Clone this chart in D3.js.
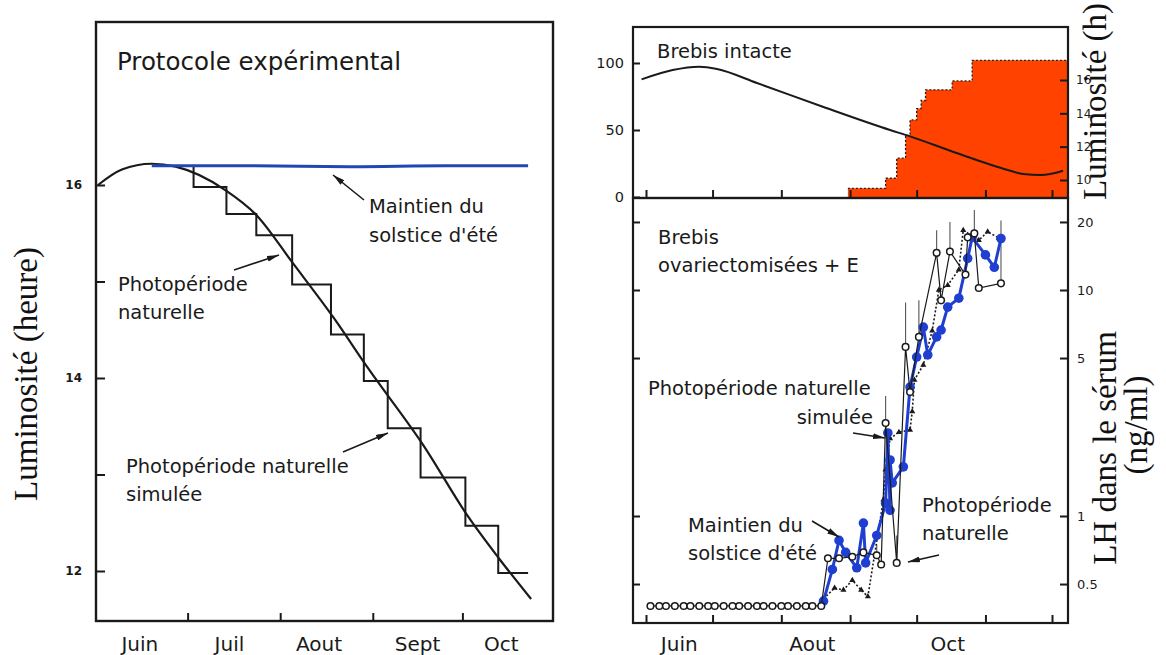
<!DOCTYPE html>
<html><head><meta charset="utf-8">
<script src="https://cdn.jsdelivr.net/npm/d3@7"></script>
<style>
body{margin:0;background:#fff}
svg{display:block}
text{font-family:"DejaVu Sans",Arial,sans-serif;fill:#1a1a1a}
.serif{font-family:"Liberation Serif","Times New Roman",serif;fill:#111}
</style>
</head><body>
<svg id="c" width="1166" height="655"></svg>
<script>
// ---------------- DATA ----------------
// Left panel : "Protocole expérimental"
const leftMonthLabels = ["Juin","Juil","Aout","Sept","Oct"];
const leftMonthLabelDates = ["06-15","07-15","08-14","09-16","10-14"];
const leftMonthTickDates = ["07-01","08-01","09-01","10-01"];
const leftHourTicks = [12,13,14,15,16];
const leftHourLabels = ["12","","14","","16"];

const naturalDates = ["06-01","06-09","06-19","06-27","07-14","07-24","08-05","08-19","08-30","09-18","10-03","10-13","10-24"];
const naturalHours = [16.0,16.16,16.22,16.19,15.94,15.69,15.2,14.62,14.12,13.3,12.56,12.14,11.71];

const solsticeDates = ["06-19","07-20","08-25","09-25","10-23"];
const solsticeHours = [16.2,16.2,16.19,16.2,16.2];

const simStepDates = ["07-03","07-03","07-14","07-24","08-05","08-18","08-29","09-06","09-17","10-02","10-13","10-23"];
const simStepHours = [16.2,15.98,15.70,15.48,14.97,14.45,13.97,13.48,12.97,12.47,11.98,11.98];

// Right panel, top : "Brebis intacte"
const rightMonthLabels = ["Juin","Aout","Oct"];
const rightMonthLabelDates = ["06-16","08-15","10-15"];
const rightMonthTickDates = ["06-01","07-01","08-01","09-01","10-01","11-01","12-01"];
const percentTicks = [0,50,100];
const lumTicks = [10,12,14,16];

const intactDates = ["05-30","06-13","06-25","07-03","07-21","08-20","09-19","09-28","10-19","11-11","11-18","11-26","12-06"];
const intactHours = [16.04,16.6,16.8,16.66,15.82,14.38,13.0,12.62,11.62,10.6,10.36,10.3,10.56];

const cyclingDates = ["08-31","09-17","09-22","09-26","09-28","10-01","10-03","10-05","10-17","10-26","12-08"];
const cyclingPct = [6.5,14,29,46,57.5,66,72,80,86.6,102,102];

// Right panel, bottom : "Brebis ovariectomisées + E"
const lhTicks = [0.5,1,5,10,20];
const lhTickLabels = ["0.5","1","5","10","20"];

const baselineDates = ["06-03","06-07","06-10","06-14","06-18","06-21","06-25","06-29","07-02","07-06","07-10","07-13","07-17","07-21","07-24","07-28","08-01","08-04","08-08","08-12","08-15","08-19"];
const baselineLH = [0.4,0.4,0.4,0.4,0.4,0.4,0.4,0.4,0.4,0.4,0.4,0.4,0.4,0.4,0.4,0.4,0.4,0.4,0.4,0.4,0.4,0.4];

const naturelDates = ["08-22","08-27","09-02","09-07","09-13","09-15","09-17","09-22","09-26","09-28","10-02","10-10","10-12","10-16","10-23","10-24","10-27","10-29","11-08"];
const naturelLH = [0.65,0.65,0.66,0.69,0.67,0.61,2.58,0.62,5.6,3.54,6.2,14.6,9.0,14.8,11.7,17.1,17.8,10.2,10.7];
const naturelUpper = [null,null,null,null,0.75,null,3.4,0.82,8.8,null,9.0,18.4,null,20,null,null,22.6,null,20.3];

const solsticeLHDates = ["08-20","08-24","08-27","08-30","09-04","09-07","09-08","09-13","09-17","09-18","09-19","09-19","09-20","09-25","09-28","10-01","10-04","10-06","10-10","10-12","10-15","10-20","10-24","10-26","11-01","11-05","11-08"];
const solsticeLH = [0.42,0.58,0.78,0.69,0.59,0.93,0.62,0.82,1.14,2.33,1.06,1.77,1.40,1.65,3.72,5.05,6.85,5.16,6.2,6.65,8.4,9.2,13.8,17.1,14.3,12.6,16.9];

const simuleeDates = ["08-20","08-25","08-29","09-02","09-06","09-09","09-16","09-17","09-19","09-23","09-28","09-29","09-30","10-04","10-08","10-11","10-15","10-20","10-22","10-29","11-02","11-07"];
const simuleeLH = [0.43,0.48,0.47,0.52,0.47,0.44,1.18,1.6,2.2,2.35,2.4,2.9,4.0,4.66,6.6,10.0,10.5,12.3,18.4,16.6,18.1,17.0];

// ---------------- DRAW ----------------
const svg = d3.select("#c");
const parse = d3.timeParse("%Y-%m-%d");
const D = s => parse("1980-" + s);
const ink = "#1a1a1a";

const defs = svg.append("defs");
defs.append("marker").attr("id","arr").attr("viewBox","0 0 12 6")
  .attr("refX",12).attr("refY",3).attr("markerWidth",12).attr("markerHeight",6)
  .attr("markerUnits","userSpaceOnUse").attr("orient","auto")
  .append("path").attr("d","M0,0 L12,3 L0,6 Z").attr("fill",ink);

function arrow(g, x1,y1,x2,y2){
  g.append("line").attr("x1",x1).attr("y1",y1).attr("x2",x2).attr("y2",y2)
   .attr("stroke",ink).attr("stroke-width",1.6).attr("marker-end","url(#arr)");
}
function label(g, x, y, txt, size, anchor){
  g.append("text").attr("x",x).attr("y",y).attr("dy","0.35em")
   .attr("font-size",size).attr("text-anchor",anchor||"start").text(txt);
}
function styleAxis(g, fs, fill){
  g.select(".domain").remove();
  g.selectAll(".tick line").attr("stroke",ink).attr("stroke-width",2);
  g.selectAll(".tick text").attr("font-size",fs).attr("fill",fill||ink)
    .attr("font-family","DejaVu Sans, Arial, sans-serif");
}

// ===== LEFT PANEL =====
const gl = svg.append("g");
const xL = d3.scaleTime().domain([D("06-01"), D("10-31")]).range([98, 552]);
const yL = d3.scaleLinear().domain([12,16]).range([571,185]);

gl.append("rect").attr("x",96).attr("y",22).attr("width",457).attr("height",599)
  .attr("fill","none").attr("stroke",ink).attr("stroke-width",2.4);

const axL = gl.append("g").attr("transform","translate(96,0)")
  .call(d3.axisLeft(yL).tickValues(leftHourTicks).tickSizeInner(-9).tickSizeOuter(0)
        .tickPadding(14).tickFormat((d,i)=>leftHourLabels[i]));
styleAxis(axL, 12);
axL.selectAll(".tick text").attr("font-weight","bold");

const axLb = gl.append("g").attr("transform","translate(0,621)")
  .call(d3.axisBottom(xL).tickValues(leftMonthTickDates.map(D)).tickSizeInner(-8).tickSizeOuter(0).tickFormat(""));
styleAxis(axLb, 12);

leftMonthLabels.forEach((m,i)=> label(gl, xL(D(leftMonthLabelDates[i])), 644, m, 20, "middle"));

// natural curve
gl.append("path")
  .attr("d", d3.line().curve(d3.curveMonotoneX)
     .x((d,i)=>xL(D(naturalDates[i]))).y(d=>yL(d))(naturalHours))
  .attr("fill","none").attr("stroke",ink).attr("stroke-width",2.2);

// simulated steps
gl.append("path")
  .attr("d", d3.line().curve(d3.curveStepAfter)
     .x((d,i)=>xL(D(simStepDates[i]))).y(d=>yL(d))(simStepHours))
  .attr("fill","none").attr("stroke",ink).attr("stroke-width",2);

// solstice maintained (blue)
gl.append("path")
  .attr("d", d3.line().curve(d3.curveMonotoneX)
     .x((d,i)=>xL(D(solsticeDates[i]))).y(d=>yL(d))(solsticeHours))
  .attr("fill","none").attr("stroke","#1f48b0").attr("stroke-width",3);

label(gl, 117, 61, "Protocole expérimental", 24.5);
label(gl, 369, 206, "Maintien du", 19.5);
label(gl, 369, 235, "solstice d'été", 19.5);
arrow(gl, 364, 200, 333, 175);
label(gl, 118, 284, "Photopériode", 19.5);
label(gl, 118, 312, "naturelle", 19.5);
arrow(gl, 234, 270, 279, 255);
label(gl, 126, 466, "Photopériode naturelle", 19.5);
label(gl, 126, 494, "simulée", 19.5);
arrow(gl, 343, 452, 388, 433);

svg.append("text").attr("class","serif").attr("font-size",33)
  .attr("transform","translate(37,374) rotate(-90)").attr("text-anchor","middle")
  .text("Luminosité (heure)");

// ===== RIGHT PANEL =====
const gr = svg.append("g");
const xR = d3.scaleTime().domain([D("06-01"), D("12-01")]).range([646, 1052]);
const yTop = d3.scaleLinear().domain([0,100]).range([197,63]);
const yHrs = d3.scaleLinear().domain([10,16]).range([180,80]);
const yLH = d3.scaleLog().domain([1,10]).range([516,290]);

// red area (cycling %)
const cyc = cyclingPct.map((v,i)=>({d:D(cyclingDates[i]), v}));
gr.append("path")
  .attr("d", d3.area().curve(d3.curveStepAfter).x(p=>xR(p.d)).y0(yTop(0)).y1(p=>yTop(p.v))(cyc))
  .attr("fill","#ff4200");
gr.append("path")
  .attr("d", d3.line().curve(d3.curveStepAfter).x(p=>xR(p.d)).y(p=>yTop(p.v))(cyc))
  .attr("fill","none").attr("stroke","#222").attr("stroke-width",1.3).attr("stroke-dasharray","2,2");

// photoperiod curve
gr.append("path")
  .attr("d", d3.line().curve(d3.curveMonotoneX)
     .x((d,i)=>xR(D(intactDates[i]))).y(d=>yHrs(d))(intactHours))
  .attr("fill","none").attr("stroke",ink).attr("stroke-width",2);

// boxes
gr.append("rect").attr("x",633).attr("y",27).attr("width",435).attr("height",171)
  .attr("fill","none").attr("stroke",ink).attr("stroke-width",2.2);
gr.append("rect").attr("x",633).attr("y",198).attr("width",435).attr("height",425)
  .attr("fill","none").attr("stroke",ink).attr("stroke-width",2.2);

const axTL = gr.append("g").attr("transform","translate(633,0)")
  .call(d3.axisLeft(yTop).tickValues(percentTicks).tickSizeInner(-7).tickSizeOuter(0).tickPadding(9));
styleAxis(axTL, 14.5);
const axTR = gr.append("g").attr("transform","translate(1068,0)")
  .call(d3.axisRight(yHrs).tickValues(lumTicks).tickSizeInner(-8).tickSizeOuter(0).tickPadding(8)
        .tickFormat(d3.format("d")));
styleAxis(axTR, 12, "#666");
const axTB = gr.append("g").attr("transform","translate(0,197)")
  .call(d3.axisBottom(xR).tickValues(rightMonthTickDates.map(D)).tickSizeInner(-7).tickSizeOuter(0).tickFormat(""));
styleAxis(axTB, 12);

const axBL = gr.append("g").attr("transform","translate(633,0)")
  .call(d3.axisLeft(yLH).tickValues(lhTicks).tickSizeInner(-7).tickSizeOuter(0).tickFormat(""));
styleAxis(axBL, 12);
const axBR = gr.append("g").attr("transform","translate(1068,0)")
  .call(d3.axisRight(yLH).tickValues(lhTicks).tickSizeInner(-8).tickSizeOuter(0).tickPadding(9)
        .tickFormat((d,i)=>lhTickLabels[i]));
styleAxis(axBR, 13, "#333");
const axBB = gr.append("g").attr("transform","translate(0,623)")
  .call(d3.axisBottom(xR).tickValues(rightMonthTickDates.map(D)).tickSizeInner(-8).tickSizeOuter(0).tickFormat(""));
styleAxis(axBB, 12);

rightMonthLabels.forEach((m,i)=> label(gr, xR(D(rightMonthLabelDates[i])), 644, m, 20, "middle"));

// bottom scatter
const nat = naturelLH.map((v,i)=>({d:D(naturelDates[i]), v, u:naturelUpper[i]}));
const base = baselineLH.map((v,i)=>({d:D(baselineDates[i]), v}));
const sol = solsticeLH.map((v,i)=>({d:D(solsticeLHDates[i]), v}));
const sim = simuleeLH.map((v,i)=>({d:D(simuleeDates[i]), v}));

// error bars
gr.append("g").selectAll("line").data(nat.filter(p=>p.u!==null)).join("line")
  .attr("x1",p=>xR(p.d)).attr("x2",p=>xR(p.d)).attr("y1",p=>yLH(p.v)).attr("y2",p=>yLH(p.u))
  .attr("stroke","#555").attr("stroke-width",1.1);

// simulated (triangles, dotted)
gr.append("path").attr("d", d3.line().x(p=>xR(p.d)).y(p=>yLH(p.v))(sim))
  .attr("fill","none").attr("stroke",ink).attr("stroke-width",1.6).attr("stroke-dasharray","2,2");
gr.append("g").selectAll("path").data(sim).join("path")
  .attr("transform",p=>`translate(${xR(p.d)},${yLH(p.v)})`)
  .attr("d", d3.symbol(d3.symbolTriangle, 16)).attr("fill",ink);

// solstice (blue)
gr.append("path").attr("d", d3.line().x(p=>xR(p.d)).y(p=>yLH(p.v))(sol))
  .attr("fill","none").attr("stroke","#1f3fd0").attr("stroke-width",3).attr("stroke-linejoin","round");
gr.append("g").selectAll("circle").data(sol).join("circle")
  .attr("cx",p=>xR(p.d)).attr("cy",p=>yLH(p.v)).attr("r",4.8).attr("fill","#1f3fd0");

// natural (open circles)
gr.append("path").attr("d", d3.line().x(p=>xR(p.d)).y(p=>yLH(p.v))(base.concat(nat)))
  .attr("fill","none").attr("stroke",ink).attr("stroke-width",1.2);
gr.append("g").selectAll("circle").data(base.concat(nat)).join("circle")
  .attr("cx",p=>xR(p.d)).attr("cy",p=>yLH(p.v)).attr("r",3.3)
  .attr("fill","#fff").attr("stroke",ink).attr("stroke-width",1.5);

// annotations
label(gr, 657, 51, "Brebis intacte", 19.5);
label(gr, 658, 237, "Brebis", 19.5);
label(gr, 658, 265, "ovariectomisées + E", 19.5);
label(gr, 648, 388, "Photopériode naturelle", 19.5);
label(gr, 873, 417, "simulée", 19.5, "end");
arrow(gr, 853, 433, 885, 438);
label(gr, 688, 525, "Maintien du", 19.5);
label(gr, 688, 553, "solstice d'été", 19.5);
arrow(gr, 812, 521, 839, 537);
label(gr, 922, 505, "Photopériode", 19.5);
label(gr, 922, 533, "naturelle", 19.5);
arrow(gr, 939, 555, 908, 562);

svg.append("text").attr("class","serif").attr("font-size",33)
  .attr("transform","translate(1106,200) rotate(-90)").attr("text-anchor","start")
  .text("Luminosité (h)");
svg.append("text").attr("class","serif").attr("font-size",33)
  .attr("transform","translate(1116,448) rotate(-90)").attr("text-anchor","middle")
  .text("LH dans le sérum");
svg.append("text").attr("class","serif").attr("font-size",33)
  .attr("transform","translate(1147,425) rotate(-90)").attr("text-anchor","middle")
  .text("(ng/ml)");
</script>
</body></html>
